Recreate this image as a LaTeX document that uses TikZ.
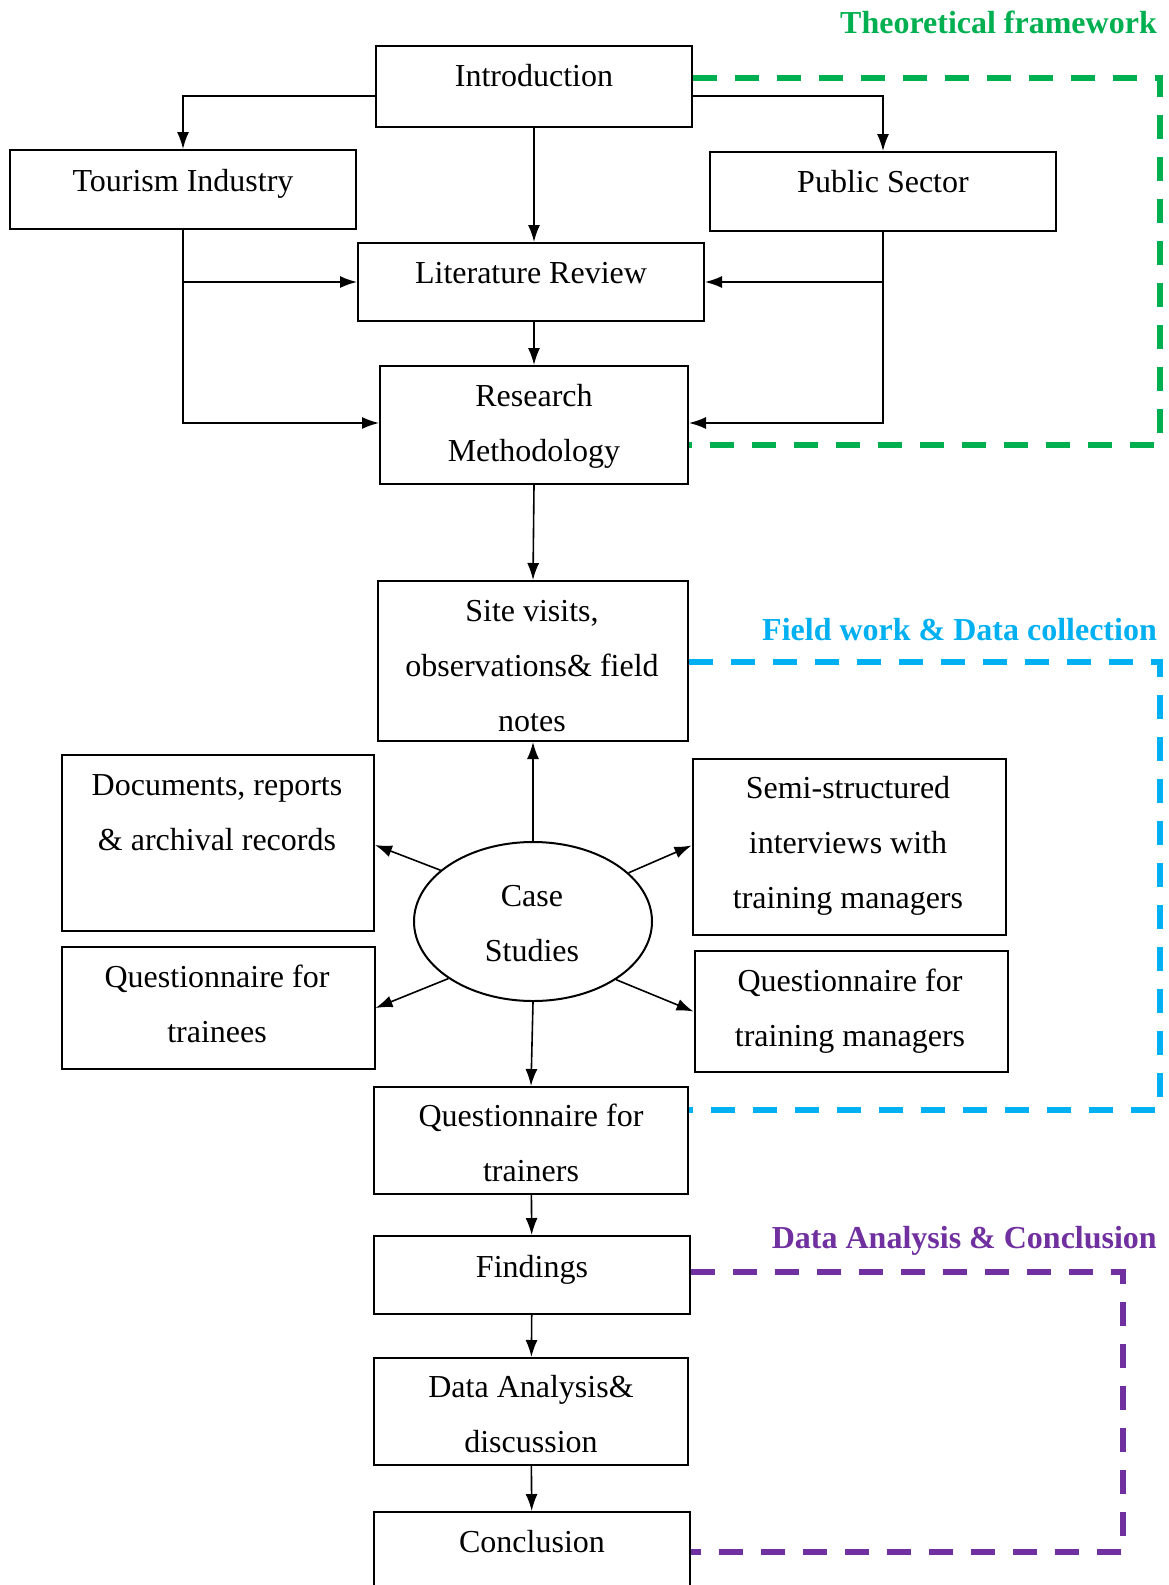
\documentclass[tikz,border=0pt]{standalone}
\usepackage{fontspec}
\setmainfont{Liberation Serif}
\usetikzlibrary{arrows.meta,shapes.geometric}
\definecolor{tfgreen}{HTML}{00B050}
\definecolor{fwblue}{HTML}{00B0F0}
\definecolor{dapurple}{HTML}{7030A0}

\begin{document}
\begin{tikzpicture}[x=1pt,y=-1pt,
  box/.style={draw, line width=2pt, inner sep=0pt},
  txt/.style={align=center, inner sep=0pt, font=\fontsize{32}{55}\selectfont,
    execute at begin node=\strut, execute at end node=\strut},
  arr/.style={line width=1.6pt, -{Latex[length=17pt,width=12pt]}},
  phase/.style={line width=6pt, dash pattern=on 24pt off 18pt},
  phaselabel/.style={anchor=base east, inner sep=0pt,
    font=\fontsize{32}{40}\selectfont\bfseries}]

\path[use as bounding box, clip] (0,0) rectangle (1168,1585);
\fill[white] (0,0) rectangle (1168,1585);

% ---- boxes ----
\node[box, minimum width=316pt, minimum height=81pt] (intro) at (534,86.5) {};
\node[box, minimum width=346pt, minimum height=79pt] (tour)  at (183,189.5) {};
\node[box, minimum width=346pt, minimum height=79pt] (pub)   at (883,191.5) {};
\node[box, minimum width=346pt, minimum height=78pt] (lit)   at (531,282) {};
\node[box, minimum width=308pt, minimum height=118pt] (meth) at (534,425) {};
\node[box, minimum width=310pt, minimum height=160pt] (site) at (533,661) {};
\node[box, minimum width=312pt, minimum height=176pt] (docs) at (218,843) {};
\node[box, minimum width=313pt, minimum height=176pt] (semi) at (849,846.5) {};
\node[box, ellipse, minimum width=238pt, minimum height=159pt] (case) at (533,921.5) {};
\node[box, minimum width=313pt, minimum height=122pt] (qtee) at (218,1008) {};
\node[box, minimum width=313pt, minimum height=121pt] (qman) at (851,1011.5) {};
\node[box, minimum width=314pt, minimum height=107pt] (qtrn) at (531,1140.5) {};
\node[box, minimum width=316pt, minimum height=78pt]  (find) at (532,1275) {};
\node[box, minimum width=314pt, minimum height=107pt] (data) at (531,1411.5) {};
\node[box, minimum width=316pt, minimum height=90pt]  (concl) at (532,1557) {};

% ---- box texts ----
\node[txt] (intro-t) at (534,75) {Introduction};
\node[txt] (tour-t) at (183,180) {Tourism Industry};
\node[txt] (pub-t) at (883,181) {Public Sector};
\node[txt] (lit-t) at (531,272) {Literature Review};
\node[txt] (meth-t) at (534,431.5) {Research\\Methodology};
\node[txt] (site-t) at (532,674.5) {Site visits,\\observations\& field\\notes};
\node[txt] (docs-t) at (217,821) {Documents, reports\\\& archival records};
\node[txt] (semi-t) at (848,851) {Semi-structured\\interviews with\\training managers};
\node[txt] (case-t) at (532,932) {Case\\Studies};
\node[txt] (qtee-t) at (217,1012) {Questionnaire for\\trainees};
\node[txt] (qman-t) at (850,1016) {Questionnaire for\\training managers};
\node[txt] (qtrn-t) at (531,1151) {Questionnaire for\\trainers};
\node[txt] (find-t) at (532,1266) {Findings};
\node[txt] (data-t) at (531,1422.5) {Data Analysis\&\\discussion};
\node[txt] (concl-t) at (532,1541) {Conclusion};

% ---- connectors: theoretical part ----
\draw[arr] ([yshift=-9.5pt]intro.west) -| (tour);
\draw[arr] ([yshift=-9.5pt]intro.east) -| (pub);
\draw[arr] (intro.south) -- (lit.north -| intro.south);
\draw[arr] (tour.south) |- ([yshift=2pt]meth.west);
\draw[arr] (tour.south |- lit.west) -- (lit.west);
\draw[arr] (pub.south) |- ([yshift=2pt]meth.east);
\draw[arr] (pub.south |- lit.east) -- (lit.east);
\draw[arr] (lit.south -| meth.north) -- (meth.north);
\draw[arr] (meth.south) -- (site.north);

% ---- connectors: case studies ----
\draw[arr] (case.north) -- (site.south);
\draw[arr] (case.151) -- ([yshift=-2pt]docs.east);
\draw[arr] (case.27) -- ([yshift=1pt]semi.west);
\draw[arr] (case.214) -- (qtee.east);
\draw[arr] (case.325) -- (qman.west);
\draw[arr] (case.south) -- (qtrn.north);
\draw[arr] (qtrn) -- (find);
\draw[arr] (find) -- (data);
\draw[arr] (data) -- (concl);

% ---- phase brackets ----
\coordinate (gA) at (1160,78);
\coordinate (gB) at (1160,445);
\draw[phase, tfgreen] (intro.east |- gA) -- (gA) -- (gB) -- (meth.east |- gB);

\coordinate (bA) at (1160,662);
\coordinate (bB) at (1160,1110);
\draw[phase, fwblue] (site.east |- bA) -- (bA) -- (bB) -- (qtrn.east |- bB);

\coordinate (pA) at (1123,1272);
\coordinate (pB) at (1123,1552);
\draw[phase, dapurple] (find.east |- pA) -- (pA) -- (pB) -- (concl.east |- pB);

% ---- phase labels ----
\node[phaselabel, tfgreen] (lblT) at (1157,33) {Theoretical framework};
\node[phaselabel, fwblue] (lblF) at (1157,640) {Field work \& Data collection};
\node[phaselabel, dapurple] (lblD) at (1157,1248) {Data Analysis \& Conclusion};
\end{tikzpicture}
\end{document}
